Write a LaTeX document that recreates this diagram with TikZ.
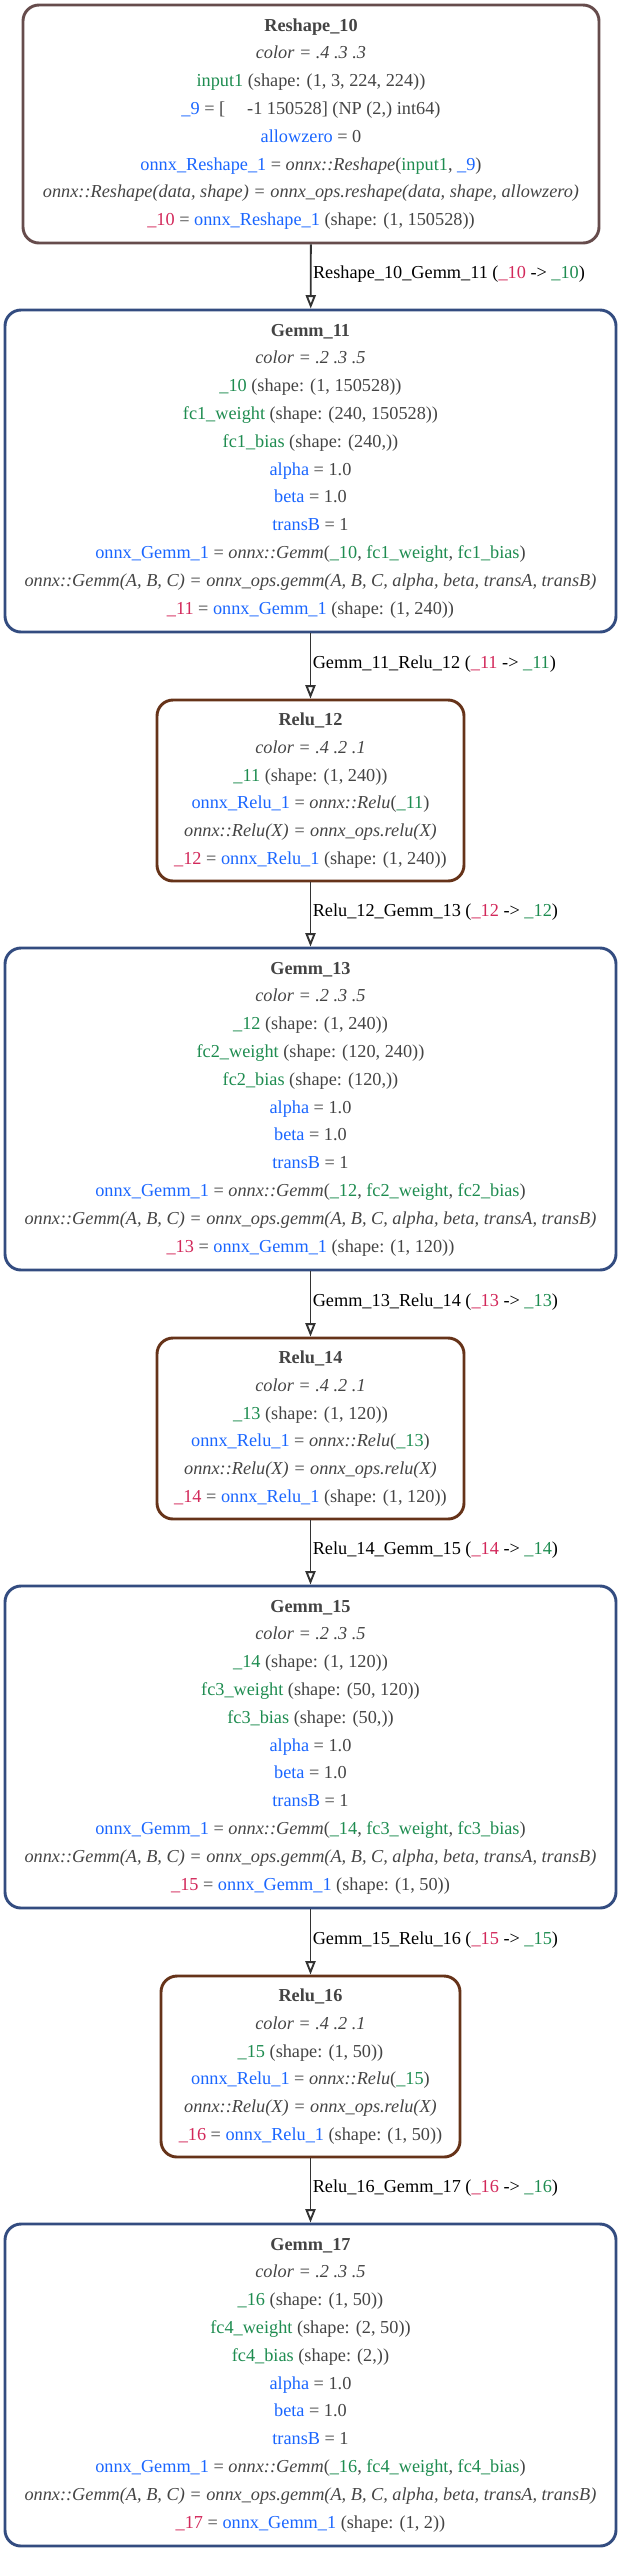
\documentclass[tikz,border=0pt]{standalone}
\usepackage{fontspec}
\setmainfont{Liberation Serif}
\usepackage{xcolor}
\usepackage{tikz}
\usetikzlibrary{arrows.meta}

\definecolor{txtgray}{HTML}{444444}
\definecolor{inblue}{HTML}{1A66FF}
\definecolor{ingreen}{HTML}{1E8C50}
\definecolor{outred}{HTML}{D2285A}
\definecolor{reshapecol}{rgb}{.4,.3,.3}
\definecolor{gemmcol}{rgb}{.2,.3,.5}
\definecolor{relucol}{rgb}{.4,.2,.1}

\newcommand{\bv}[1]{\textcolor{inblue}{#1}}
\newcommand{\gv}[1]{\textcolor{ingreen}{#1}}
\newcommand{\rv}[1]{\textcolor{outred}{#1}}

% #1 node number, #2 input, #3 input shape, #4 fc layer, #5 weight shape, #6 bias shape, #7 output shape
\newcommand{\gemmlines}[7]{\textbf{Gemm\_#1}\\
\textit{color = .2 .3 .5}\\
\gv{\_#2} (shape: (#3))\\
\gv{#4\_weight} (shape: (#5))\\
\gv{#4\_bias} (shape: (#6))\\
\bv{alpha} = 1.0\\
\bv{beta} = 1.0\\
\bv{transB} = 1\\
\bv{onnx\_Gemm\_1} = \textit{onnx::Gemm}(\gv{\_#2}, \gv{#4\_weight}, \gv{#4\_bias})\\
\textit{onnx::Gemm(A, B, C) = onnx\_ops.gemm(A, B, C, alpha, beta, transA, transB)}\\
\rv{\_#1} = \bv{onnx\_Gemm\_1} (shape: (#7))}

% #1 node number, #2 input, #3 shape
\newcommand{\relulines}[3]{\textbf{Relu\_#1}\\
\textit{color = .4 .2 .1}\\
\gv{\_#2} (shape: (#3))\\
\bv{onnx\_Relu\_1} = \textit{onnx::Relu}(\gv{\_#2})\\
\textit{onnx::Relu(X) = onnx\_ops.relu(X)}\\
\rv{\_#1} = \bv{onnx\_Relu\_1} (shape: (#3))}

\begin{document}
\begin{tikzpicture}[x=0.75pt,y=0.75pt,yscale=-1,xscale=1,
  box/.style={draw, line width=2.2pt, rounded corners=12pt, align=center, text=txtgray,
    font=\fontsize{13.7}{20.85}\selectfont, inner sep=0pt},
  reshapebox/.style={box, draw=reshapecol, minimum width=432pt, minimum height=178.5pt},
  gemmbox/.style={box, draw=gemmcol, minimum width=458.25pt, minimum height=241.5pt},
  relubox/.style={box, draw=relucol, minimum width=230.25pt, minimum height=135.75pt},
  edge/.style={draw=black!80, line width=1.4pt, -{Triangle[open, length=10pt, width=7.5pt]}},
  lbl/.style={anchor=west, text=black, inner sep=1pt, yshift=1.5pt,
    font=\fontsize{13.7}{17}\selectfont}]
\useasboundingbox (0,0) rectangle (620,2553);

% Reshape node
\node[reshapebox] (reshape10) at (311,124) {\textbf{Reshape\_10}\\
\textit{color = .4 .3 .3}\\
\gv{input1} (shape: (1, 3, 224, 224))\\
\bv{\_9} = [\hspace{1.2em}-1 150528] (NP (2,) int64)\\
\bv{allowzero} = 0\\
\bv{onnx\_Reshape\_1} = \textit{onnx::Reshape}(\gv{input1}, \bv{\_9})\\
\textit{onnx::Reshape(data, shape) = onnx\_ops.reshape(data, shape, allowzero)}\\
\rv{\_10} = \bv{onnx\_Reshape\_1} (shape: (1, 150528))};

% Gemm and Relu nodes
\node[gemmbox] (gemm11) at (310.5,471) {\gemmlines{11}{10}{1, 150528}{fc1}{240, 150528}{240,}{1, 240}};
\node[relubox] (relu12) at (310.5,790.5) {\relulines{12}{11}{1, 240}};
\node[gemmbox] (gemm13) at (310.5,1109) {\gemmlines{13}{12}{1, 240}{fc2}{120, 240}{120,}{1, 120}};
\node[relubox] (relu14) at (310.5,1428.5) {\relulines{14}{13}{1, 120}};
\node[gemmbox] (gemm15) at (310.5,1747) {\gemmlines{15}{14}{1, 120}{fc3}{50, 120}{50,}{1, 50}};
\node[relubox, minimum width=224.25pt] (relu16) at (310.5,2066.5) {\relulines{16}{15}{1, 50}};
\node[gemmbox] (gemm17) at (310.5,2385) {\gemmlines{17}{16}{1, 50}{fc4}{2, 50}{2,}{1, 2}};

% Edges
\draw[edge] (reshape10) -- node[lbl] {Reshape\_10\_Gemm\_11 (\rv{\_10} -> \gv{\_10})} (gemm11);
\draw[edge] (gemm11) -- node[lbl] {Gemm\_11\_Relu\_12 (\rv{\_11} -> \gv{\_11})} (relu12);
\draw[edge] (relu12) -- node[lbl] {Relu\_12\_Gemm\_13 (\rv{\_12} -> \gv{\_12})} (gemm13);
\draw[edge] (gemm13) -- node[lbl] {Gemm\_13\_Relu\_14 (\rv{\_13} -> \gv{\_13})} (relu14);
\draw[edge] (relu14) -- node[lbl] {Relu\_14\_Gemm\_15 (\rv{\_14} -> \gv{\_14})} (gemm15);
\draw[edge] (gemm15) -- node[lbl] {Gemm\_15\_Relu\_16 (\rv{\_15} -> \gv{\_15})} (relu16);
\draw[edge] (relu16) -- node[lbl] {Relu\_16\_Gemm\_17 (\rv{\_16} -> \gv{\_16})} (gemm17);
\end{tikzpicture}
\end{document}
